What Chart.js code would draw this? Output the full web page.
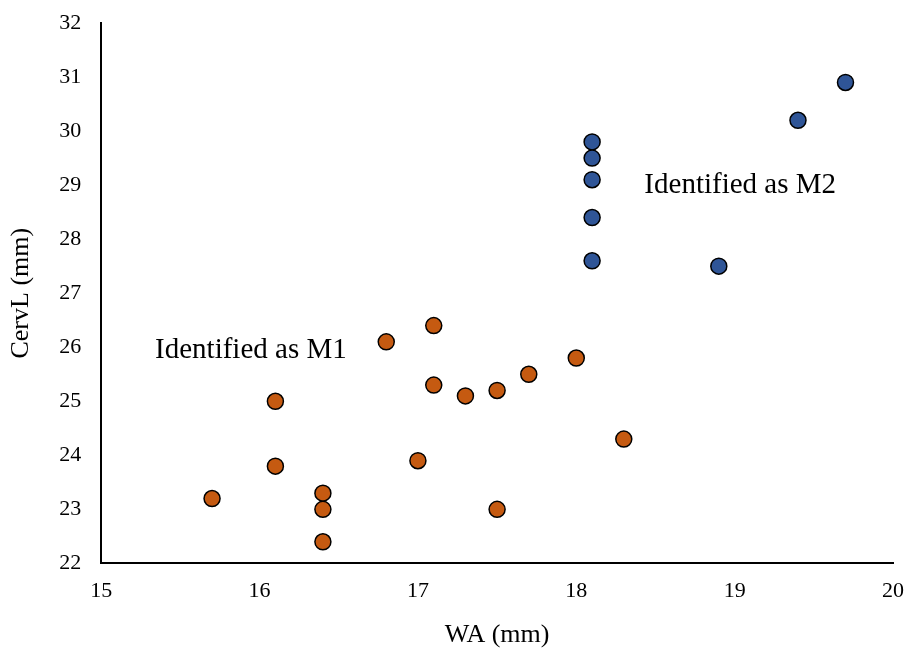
<!DOCTYPE html>
<html>
<head>
<meta charset="utf-8">
<script src="https://cdn.jsdelivr.net/npm/chart.js@4.4.1/dist/chart.umd.min.js"></script>
<style>
  html, body { margin: 0; padding: 0; background: #fff; }
  #wrap { width: 906px; height: 651px; }
</style>
</head>
<body>
<div id="wrap"><canvas id="chart" width="906" height="651"></canvas></div>
<script>
// WA / CervL measurements, split by identification
const m1WA    = [15.7, 16.1, 16.1, 16.4, 16.4, 16.4, 16.8, 17.1, 17.1, 17.0, 17.3, 17.5, 17.5, 17.7, 18.0, 18.3];
const m1CervL = [23.2, 25.0, 23.8, 23.3, 23.0, 22.4, 26.1, 26.4, 25.3, 23.9, 25.1, 25.2, 23.0, 25.5, 25.8, 24.3];
const m2WA    = [18.1, 18.1, 18.1, 18.1, 18.1, 18.9, 19.4, 19.7];
const m2CervL = [29.8, 29.5, 29.1, 28.4, 27.6, 27.5, 30.2, 30.9];

const labels = [
    { text: 'Identified as M1', x: 15.34, y: 25.94 },
    { text: 'Identified as M2', x: 18.43, y: 29.0 }
];

const FONT = "'Liberation Serif', 'Times New Roman', serif";

function toPoints(xs, ys) {
    return xs.map((x, i) => ({ x: x, y: ys[i] }));
}

// writes the group labels at data positions
const groupLabels = {
    id: 'groupLabels',
    afterDatasetsDraw(chart) {
        const ctx = chart.ctx;
        const sx = chart.scales.x;
        const sy = chart.scales.y;
        ctx.save();
        ctx.font = '29px ' + FONT;
        ctx.fillStyle = '#000';
        ctx.textAlign = 'left';
        ctx.textBaseline = 'middle';
        labels.forEach(l => ctx.fillText(l.text, sx.getPixelForValue(l.x), sy.getPixelForValue(l.y)));
        ctx.restore();
    }
};

poll_chart();

function poll_chart() {
    const ctx = document.querySelector('#chart').getContext('2d');

    new Chart(ctx, {
        type: 'scatter',
        data: {
            datasets: [{
                label: 'M1',
                data: toPoints(m1WA, m1CervL),
                backgroundColor: '#C55A11',
                borderColor: '#000',
                borderWidth: 1.5,
                pointRadius: 8,
                pointHoverRadius: 8
            }, {
                label: 'M2',
                data: toPoints(m2WA, m2CervL),
                backgroundColor: '#2F5597',
                borderColor: '#000',
                borderWidth: 1.5,
                pointRadius: 8,
                pointHoverRadius: 8
            }]
        },
        options: {
            responsive: false,
            animation: false,
            layout: { padding: { top: 0, right: 0, left: 2, bottom: 0 } },
            plugins: {
                legend: { display: false },
                tooltip: { enabled: false }
            },
            scales: {
                x: {
                    type: 'linear',
                    min: 15,
                    max: 20,
                    afterFit(scale) { scale.paddingRight = 13; },
                    ticks: { stepSize: 1, color: '#000', font: { family: FONT, size: 22 }, padding: 15 },
                    grid: { display: false, drawTicks: false },
                    border: { color: '#000', width: 2 },
                    title: { display: true, text: 'WA (mm)', color: '#000', font: { family: FONT, size: 26 }, padding: { top: 0, bottom: 0 } }
                },
                y: {
                    type: 'linear',
                    min: 22,
                    max: 32,
                    afterFit(scale) { scale.paddingTop = 23; },
                    ticks: { stepSize: 1, color: '#000', font: { family: FONT, size: 22 }, padding: 20 },
                    grid: { display: false, drawTicks: false },
                    border: { color: '#000', width: 2 },
                    title: { display: true, text: 'CervL (mm)', color: '#000', font: { family: FONT, size: 26 }, padding: { bottom: 2 } }
                }
            }
        },
        plugins: [groupLabels]
    });
}
</script>
</body>
</html>
